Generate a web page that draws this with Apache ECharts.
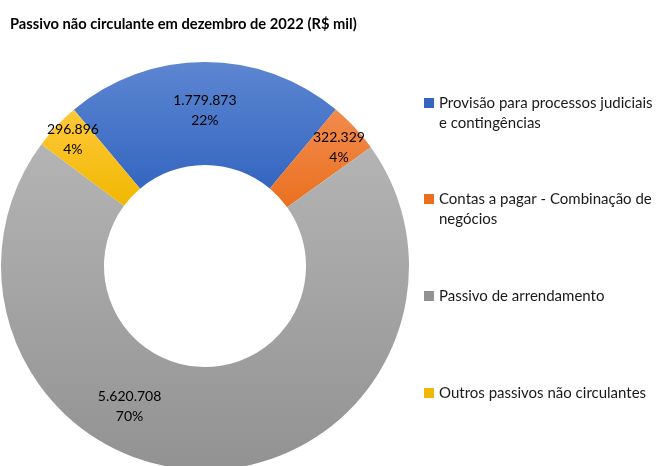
<!DOCTYPE html>
<html lang="pt-BR" style="height: 100%">
<head>
    <meta charset="utf-8">
    <title>Passivo não circulante</title>
    <script src="https://cdn.jsdelivr.net/npm/echarts@6/dist/echarts.min.js"></script>
</head>
<body style="height: 100%; margin: 0">
<div id="main" style="width:659px;height:466px"></div>
<script type="text/javascript">
    // dados do gráfico
    var categorias = [
        'Provisão para processos judiciais\ne contingências',
        'Contas a pagar - Combinação de\nnegócios',
        'Passivo de arrendamento',
        'Outros passivos não circulantes'
    ];
    var valores = [1779873, 322329, 5620708, 296896];

    // cores (topo / base do degradê)
    var coresTopo = ['#5d86d2', '#f28b4c', '#b4b4b4', '#ffc83a'];
    var coresBase = ['#3466c0', '#ea7020', '#929292', '#f0b800'];
    // deslocamento dos rótulos (como no Excel)
    var rotuloDx = [0, 20, -74, -19];
    var rotuloDy = [0, -13, -15, -20];
    // posição vertical de cada legenda
    var legendaTopo = [93, 189, 286, 383];

    var fonte = 'Lato';

    function formataBR(n) {
        return String(n).replace(/\B(?=(\d{3})+(?!\d))/g, '.');
    }

    var dados = [];
    for (var i = 0; i < valores.length; i++) {
        dados.push({
            name: categorias[i],
            value: valores[i],
            itemStyle: {
                color: {
                    type: 'linear', x: 0, y: 0, x2: 0, y2: 1,
                    colorStops: [
                        {offset: 0, color: coresTopo[i]},
                        {offset: 1, color: coresBase[i]}
                    ]
                }
            }
        });
    }

    // legenda: um componente por item; o ícone fica alinhado à 1a linha do texto
    var legendas = [];
    for (var j = 0; j < categorias.length; j++) {
        var linhas = categorias[j].split('\n').length;
        var alt = 10 + (linhas - 1) * 20;
        legendas.push({
            data: [{name: categorias[j], itemStyle: {color: coresBase[j]}}],
            orient: 'vertical',
            left: 424,
            top: legendaTopo[j],
            padding: 0,
            itemWidth: 10,
            itemHeight: alt,
            itemGap: 5,
            icon: 'path://M0,0H10V10H0Z M0,' + (alt - 0.01) + 'H0.01V' + alt + 'H0Z',
            selectedMode: false,
            textStyle: {
                fontFamily: fonte,
                fontSize: 15,
                color: '#1a1a1a',
                lineHeight: 20
            }
        });
    }

    var chart = echarts.init(document.getElementById('main'));
    var option = {
        animation: false,
        title: {
            text: 'Passivo não circulante em dezembro de 2022 (R$ mil)',
            left: 10,
            top: 17,
            padding: 0,
            textStyle: {
                fontFamily: fonte,
                fontSize: 14.7,
                fontWeight: 'bold',
                color: '#000'
            }
        },
        legend: legendas,
        series: [
            {
                type: 'pie',
                center: [205, 266],
                radius: [101, 204],
                startAngle: 130,
                clockwise: true,
                avoidLabelOverlap: false,
                emphasis: {disabled: true},
                label: {
                    show: true,
                    position: 'inside',
                    fontFamily: fonte,
                    fontSize: 14,
                    lineHeight: 20,
                    color: '#000',
                    formatter: function (p) {
                        return formataBR(p.value) + '\n' + Math.round(p.percent) + '%';
                    }
                },
                labelLayout: function (p) {
                    return {dx: rotuloDx[p.dataIndex], dy: rotuloDy[p.dataIndex]};
                },
                data: dados
            }
        ]
    };
    chart.setOption(option);
</script>
</body>
</html>
